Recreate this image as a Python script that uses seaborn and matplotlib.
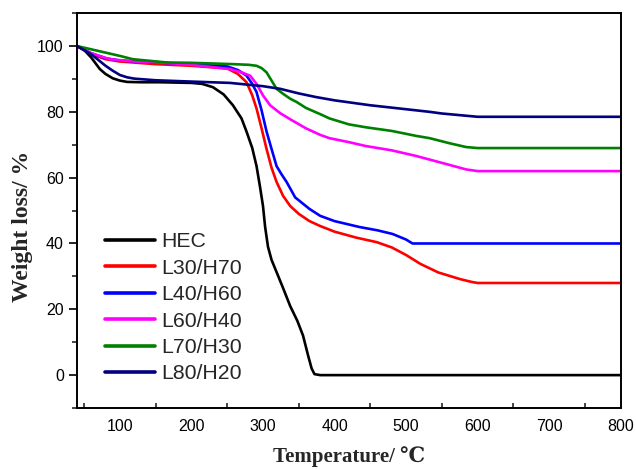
import numpy as np
import pandas as pd
import matplotlib
matplotlib.use("Agg")
import matplotlib.pyplot as plt
import seaborn as sns
from matplotlib.ticker import MultipleLocator

# ---- data ----
hec_T = [40, 50, 60, 72, 80, 90, 100, 110, 130, 156, 200, 215, 230, 245, 258, 270, 277, 285, 291, 296, 300, 303, 307, 312, 319, 328, 338, 348, 356, 363, 368, 372, 380, 800]
hec_W = [100, 98.8, 96.5, 93, 91.5, 90.2, 89.5, 89.1, 89, 89, 88.8, 88.5, 87.5, 85.3, 82, 78, 74, 69, 63.5, 57, 51.4, 45, 39, 35, 31.3, 26.5, 21, 16.5, 12, 6, 2, 0.3, 0, 0]

l30_T = [40, 60, 80, 100, 150, 200, 250, 265, 277, 285, 291, 298, 305, 312, 319, 328, 338, 350, 365, 380, 400, 430, 459, 480, 500, 520, 545, 575, 592, 600, 800]
l30_W = [100, 97.5, 96, 95.3, 94.5, 94, 93.2, 91.5, 89, 85, 81, 75, 68.7, 63, 58.7, 54.5, 51.4, 49, 46.8, 45.3, 43.6, 41.8, 40.4, 38.8, 36.5, 33.8, 31.2, 29.2, 28.3, 28, 28]

l40_T = [40, 60, 80, 100, 150, 200, 250, 265, 277, 285, 291, 298, 305, 312, 319, 326, 333, 345, 365, 380, 400, 435, 460, 481, 500, 509, 800]
l40_W = [100, 97.8, 96.3, 95.6, 95, 94.5, 93.8, 92.7, 91, 88.5, 86, 80.5, 74, 68.7, 63.5, 61, 58.7, 54, 50.5, 48.4, 46.8, 45, 44, 42.9, 41.2, 40, 40]

l60_T = [40, 60, 86, 120, 156, 200, 254, 270, 282, 291, 300, 310, 324, 340, 360, 380, 393, 420, 444, 480, 514, 550, 584, 600, 800]
l60_W = [100, 97.8, 96, 95.3, 95, 94.3, 93, 92, 91, 88.5, 85, 82, 79.6, 77.5, 75, 73, 72, 70.8, 69.6, 68.3, 66.6, 64.5, 62.5, 62, 62]

l70_T = [40, 60, 80, 100, 118, 166, 200, 258, 280, 291, 298, 305, 312, 319, 328, 338, 347, 360, 380, 393, 420, 444, 480, 514, 533, 560, 584, 600, 800]
l70_W = [100, 99, 98, 97, 96, 95, 94.9, 94.5, 94.3, 94, 93.3, 92, 89.5, 87, 85.5, 84, 83, 81.2, 79.3, 78, 76.2, 75.3, 74.2, 72.7, 72, 70.5, 69.3, 69, 69]

l80_T = [40, 60, 80, 90, 100, 110, 120, 150, 200, 254, 300, 324, 350, 374, 400, 450, 500, 533, 550, 575, 590, 600, 800]
l80_W = [100, 97.5, 94, 92.5, 91.2, 90.5, 90.1, 89.6, 89.2, 88.8, 87.8, 87, 85.6, 84.5, 83.5, 82, 80.8, 80, 79.5, 79, 78.7, 78.5, 78.5]

series_names = ["HEC", "L30/H70", "L40/H60", "L60/H40", "L70/H30", "L80/H20"]
series_colors = ["#000000", "#ff0000", "#0000ff", "#ff00ff", "#008000", "#000080"]
x_ticks = [100, 200, 300, 400, 500, 600, 700, 800]
y_ticks = [0, 20, 40, 60, 80, 100]

frames = []
for name, T, W in zip(series_names,
                      [hec_T, l30_T, l40_T, l60_T, l70_T, l80_T],
                      [hec_W, l30_W, l40_W, l60_W, l70_W, l80_W]):
    frames.append(pd.DataFrame({"T": T, "W": W, "sample": name}))
df = pd.concat(frames, ignore_index=True)

sns.set_theme(style="white")
plt.rcParams["font.family"] = ["Liberation Sans", "DejaVu Sans"]

fig = plt.figure(figsize=(6.36, 4.69), dpi=100)
ax = fig.add_axes([0.121, 0.130, 0.855, 0.842])

sns.lineplot(data=df, x="T", y="W", hue="sample", hue_order=series_names,
             palette=dict(zip(series_names, series_colors)), linewidth=1.9,
             sort=False, estimator=None, ax=ax)

ax.set_xlim(40, 800)
ax.set_ylim(-10, 110)
ax.set_xticks(x_ticks)
ax.set_yticks(y_ticks)
ax.xaxis.set_minor_locator(MultipleLocator(50))
ax.yaxis.set_minor_locator(MultipleLocator(10))
ax.tick_params(axis="x", which="major", direction="in", length=6, width=1.2, labelsize=11.5, pad=8, colors="black")
ax.tick_params(axis="x", which="minor", direction="in", length=3.5, width=1.2, bottom=True)
ax.tick_params(axis="y", which="major", direction="out", length=6, width=1.2, labelsize=11.5, colors="black", left=True)
ax.tick_params(axis="y", which="minor", direction="out", length=3.5, width=1.2, left=True)
for s in ax.spines.values():
    s.set_color("black")
    s.set_linewidth(1.4)

ax.set_xlabel("Temperature/ ℃", family=["Liberation Serif", "DejaVu Serif"],
              fontweight="bold", fontsize=15, va="center")
ax.set_ylabel("Weight loss/ %", family=["Liberation Serif", "DejaVu Serif"],
              fontweight="bold", fontsize=17, va="center")
ax.xaxis.set_label_coords(0.5, -0.124)
ax.yaxis.set_label_coords(-0.101, 0.46)

leg = ax.legend(loc="upper left", bbox_to_anchor=(0.0515, 0.445), frameon=False,
                borderpad=0, borderaxespad=0,
                fontsize=15.3, handlelength=2.35, handletextpad=0.28, labelspacing=0.35)
for line in leg.get_lines():
    line.set_linewidth(2.6)

fig.savefig("out.png", dpi=100)
